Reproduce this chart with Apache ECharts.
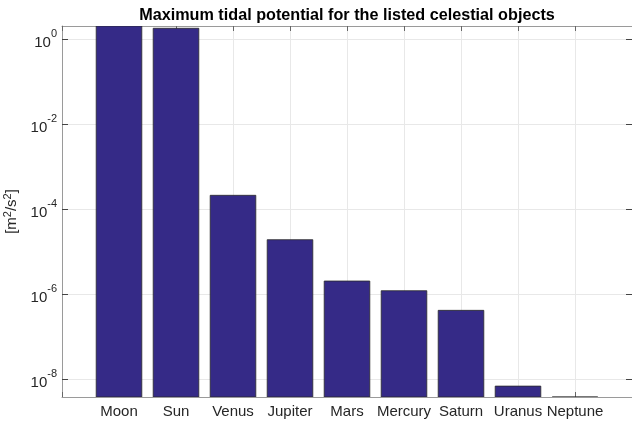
<!DOCTYPE html>
<html>
<head>
<meta charset="utf-8">
<script src="https://cdn.jsdelivr.net/npm/echarts@6/dist/echarts.min.js"></script>
<style>html,body{margin:0;padding:0;background:#fff}#c{width:632px;height:423px}</style>
</head>
<body>
<div id="c"></div>
<script>
const categories = ['Moon', 'Sun', 'Venus', 'Jupiter', 'Mars', 'Mercury', 'Saturn', 'Uranus', 'Neptune'];
const tidalPotential = [2.06, 1.82, 2.12e-4, 1.91e-5, 2.03e-6, 1.20e-6, 4.14e-7, 6.8e-9, 3.77e-9];
const titleText = 'Maximum tidal potential for the listed celestial objects';
const yAxisName = '[m{s|2}/s{s|2}]';
const yTickValues = [1e-8, 1e-6, 1e-4, 1e-2, 1];

const yMin = Math.min(...tidalPotential);
const yMax = Math.max(...tidalPotential);
const barData = tidalPotential.map((v, i) => [i + 1, v]);

const FONT = 'Liberation Sans, Arial, Helvetica, sans-serif';
const TXT = '#262626';
const AX = '#9a9a9a';
const GRID = '#e8e8e8';
const FS = 15;

function yLabel(v) {
  const r = Math.round(Math.log10(v));
  return '{b|10}{s|' + r + '}';
}
function xLabel(v) {
  const i = Math.round(v) - 1;
  return (Math.abs(v - Math.round(v)) < 1e-9 && categories[i]) ? categories[i] : '';
}

function renderBar(params, api) {
  const x = api.value(0);
  const v = api.value(1);
  const top = api.coord([x, v]);
  const bottom = api.coord([x, yMin]);
  const w = api.size([0.8, 0])[0];
  return {
    type: 'rect',
    shape: {x: top[0] - w / 2, y: top[1], width: w, height: bottom[1] - top[1]},
    style: {fill: '#352a87', stroke: '#2a2a2a', lineWidth: 0.8}
  };
}

const supRich = {
  b: {fontSize: FS, fontFamily: FONT, color: TXT, lineHeight: 22, verticalAlign: 'bottom'},
  s: {fontSize: 11, fontFamily: FONT, color: TXT, lineHeight: 22, verticalAlign: 'top'}
};

const chart = echarts.init(document.getElementById('c'), null, {renderer: 'canvas'});
chart.setOption({
  animation: false,
  backgroundColor: '#fff',
  textStyle: {fontFamily: FONT},
  title: {
    text: titleText,
    left: 342,
    textAlign: 'center',
    top: 3,
    textStyle: {fontFamily: FONT, fontWeight: 'bold', fontSize: 16.2, color: '#000'}
  },
  grid: {left: 62, right: 0, top: 26, bottom: 26, containLabel: false, outerBoundsMode: 'none'},
  xAxis: [{
    type: 'value', min: 0, max: 10, interval: 1,
    axisLine: {show: true, onZero: false, lineStyle: {color: AX, width: 1}},
    axisTick: {show: true, inside: true, length: 5, lineStyle: {color: '#666'}},
    axisLabel: {formatter: xLabel, color: TXT, fontSize: FS, fontFamily: FONT, margin: 7, showMinLabel: true, showMaxLabel: true},
    splitLine: {show: true, lineStyle: {color: GRID, width: 1}}
  }, {
    type: 'value', position: 'top', min: 0, max: 10, interval: 1,
    axisLine: {show: true, onZero: false, lineStyle: {color: AX, width: 1}},
    axisTick: {show: true, inside: true, length: 5, lineStyle: {color: '#666'}},
    axisLabel: {show: false},
    splitLine: {show: false}
  }],
  yAxis: [{
    type: 'log', logBase: 10, min: yMin, max: yMax,
    name: yAxisName, nameLocation: 'middle', nameRotate: 90, nameGap: 37,
    nameTextStyle: {
      color: TXT, fontSize: FS, fontFamily: FONT,
      rich: {
        s: {fontSize: 11, fontFamily: FONT, color: TXT, lineHeight: 20, verticalAlign: 'top'}
      }
    },
    axisLine: {show: true, onZero: false, lineStyle: {color: AX, width: 1}},
    axisTick: {show: true, inside: true, length: 6, customValues: yTickValues, lineStyle: {color: '#444'}},
    minorTick: {show: false},
    axisLabel: {
      formatter: yLabel, margin: 5, color: TXT, customValues: yTickValues,
      rich: supRich
    },
    splitLine: {show: true, lineStyle: {color: GRID, width: 1}}
  }, {
    type: 'log', logBase: 10, min: yMin, max: yMax, position: 'right',
    axisLine: {show: true, onZero: false, lineStyle: {color: AX, width: 1}},
    axisTick: {show: true, inside: true, length: 6, customValues: yTickValues, lineStyle: {color: '#444'}},
    axisLabel: {show: false},
    splitLine: {show: false}
  }],
  series: [{
    type: 'custom',
    renderItem: renderBar,
    encode: {x: 0, y: 1},
    data: barData,
    clip: true
  }]
});
</script>
</body>
</html>
